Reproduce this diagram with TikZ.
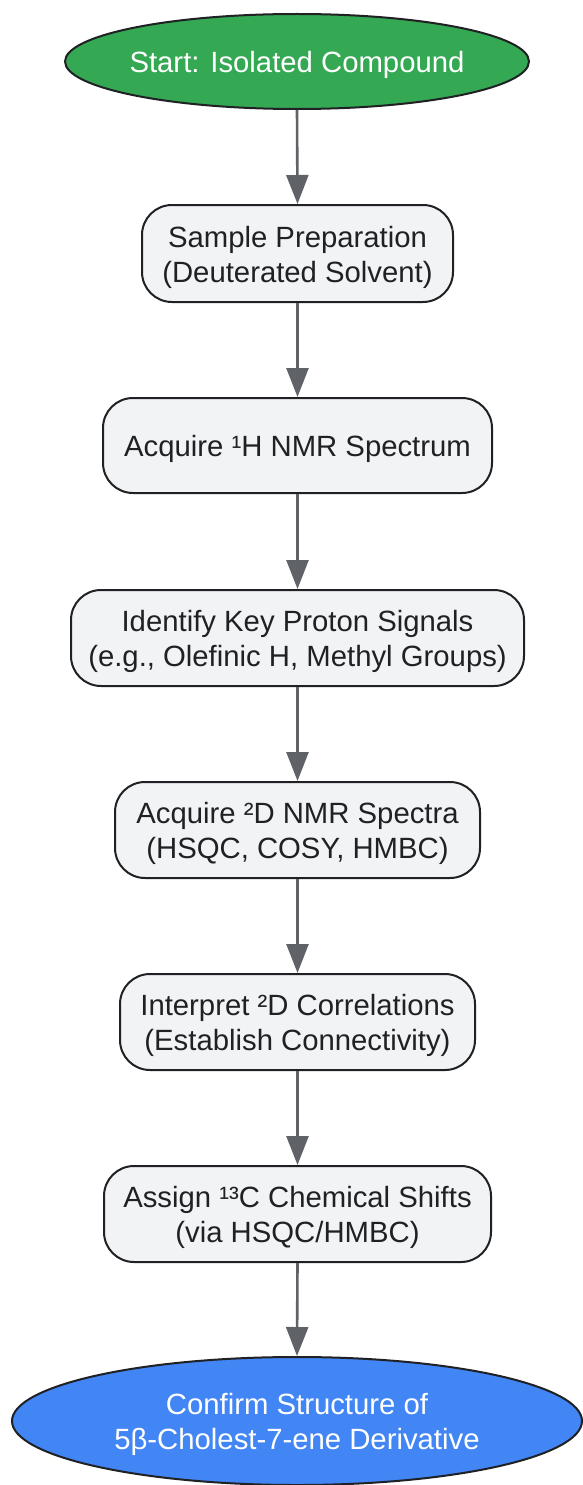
\documentclass[tikz,border=0pt]{standalone}
\usepackage{fontspec}
\setmainfont{Liberation Sans}
\usetikzlibrary{shapes.geometric,arrows.meta}
\definecolor{startgreen}{HTML}{34A853}
\definecolor{endblue}{HTML}{4285F4}
\definecolor{boxfill}{HTML}{F1F3F4}
\definecolor{darktext}{HTML}{202124}
\definecolor{arrowgray}{HTML}{5F6368}
\newcommand\liftline{\rule{0pt}{28.5pt}}
\tikzset{
  basefont/.style={font=\fontsize{29.3}{35}\selectfont, align=center, inner sep=0pt},
  terminal/.style={basefont, ellipse, draw=darktext, line width=2pt, text=white, inner xsep=-10pt},
  stepbox/.style={basefont, rectangle, rounded corners=30pt, draw=darktext, line width=2pt, fill=boxfill, text=darktext},
  flow/.style={draw=arrowgray, line width=2.6pt, -{Triangle[length=29pt,width=22pt]}}
}
\begin{document}
\begin{tikzpicture}[x=1pt,y=-1pt]
\useasboundingbox (0,0) rectangle (582,1485);
\node[terminal, fill=startgreen, minimum width=464pt, minimum height=95pt] (start) at (297,61.5) {\liftline Start: Isolated Compound};
\node[stepbox, minimum width=311pt, minimum height=97pt] (s1) at (297.5,253.5) {\liftline Sample Preparation\\(Deuterated Solvent)};
\node[stepbox, minimum width=389pt, minimum height=95pt] (s2) at (297.5,445.5) {\liftline Acquire ¹H NMR Spectrum};
\node[stepbox, minimum width=453pt, minimum height=96pt] (s3) at (297.5,638) {\liftline Identify Key Proton Signals\\(e.g., Olefinic H, Methyl Groups)};
\node[stepbox, minimum width=365pt, minimum height=96pt] (s4) at (297.5,830) {\liftline Acquire ²D NMR Spectra\\(HSQC, COSY, HMBC)};
\node[stepbox, minimum width=355pt, minimum height=96pt] (s5) at (297.5,1022) {\liftline Interpret ²D Correlations\\(Establish Connectivity)};
\node[stepbox, minimum width=387pt, minimum height=96pt] (s6) at (297.5,1214) {\liftline Assign ¹³C Chemical Shifts\\(via HSQC/HMBC)};
\node[terminal, fill=endblue, minimum width=570pt, minimum height=128pt] (end) at (297,1421) {\liftline Confirm Structure of\\5β-Cholest-7-ene Derivative};
\draw[flow] (start.south) -- (s1.north);
\draw[flow] (s1.south) -- (s2.north);
\draw[flow] (s2.south) -- (s3.north);
\draw[flow] (s3.south) -- (s4.north);
\draw[flow] (s4.south) -- (s5.north);
\draw[flow] (s5.south) -- (s6.north);
\draw[flow] (s6.south) -- (end.north);
\end{tikzpicture}
\end{document}
